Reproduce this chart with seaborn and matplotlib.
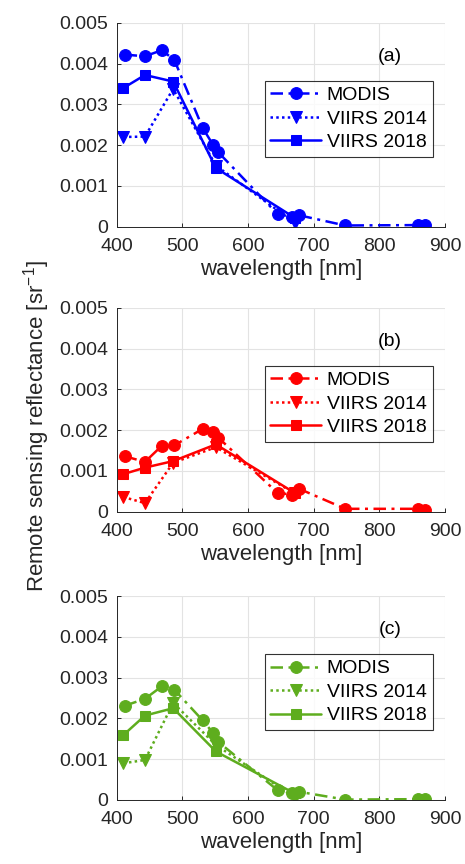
import numpy as np
import pandas as pd
import matplotlib
matplotlib.use("Agg")
import matplotlib.pyplot as plt
import seaborn as sns

# ---- data ----
modis_wl = [412, 443, 469, 488, 531, 547, 555, 645, 667, 678, 748, 859, 869]
viirs_wl = [410, 443, 486, 551, 671]

modis_a = [4.22e-3, 4.18e-3, 4.33e-3, 4.08e-3, 2.42e-3, 2.00e-3, 1.82e-3, 0.31e-3, 0.24e-3, 0.28e-3, 0.03e-3, 0.04e-3, 0.03e-3]
viirs14_a = [2.20e-3, 2.21e-3, 3.38e-3, 1.50e-3, 0.10e-3]
viirs18_a = [3.40e-3, 3.72e-3, 3.56e-3, 1.44e-3, 0.22e-3]

modis_b = [1.36e-3, 1.22e-3, 1.62e-3, 1.63e-3, 2.03e-3, 1.95e-3, 1.81e-3, 0.46e-3, 0.42e-3, 0.56e-3, 0.07e-3, 0.07e-3, 0.05e-3]
viirs14_b = [0.36e-3, 0.21e-3, 1.20e-3, 1.58e-3, 0.45e-3]
viirs18_b = [0.92e-3, 1.08e-3, 1.24e-3, 1.65e-3, 0.46e-3]

modis_c = [2.31e-3, 2.48e-3, 2.79e-3, 2.70e-3, 1.95e-3, 1.64e-3, 1.42e-3, 0.24e-3, 0.17e-3, 0.20e-3, 0.01e-3, 0.02e-3, 0.02e-3]
viirs14_c = [0.90e-3, 0.98e-3, 2.38e-3, 1.35e-3, 0.06e-3]
viirs18_c = [1.59e-3, 2.07e-3, 2.25e-3, 1.19e-3, 0.16e-3]

series_labels = ["MODIS", "VIIRS 2014", "VIIRS 2018"]
panel_labels = ["(a)", "(b)", "(c)"]
panel_colors = ["#0000FF", "#FF0000", "#5EAD1E"]
x_ticks = [400, 500, 600, 700, 800, 900]
y_ticks = [0, 0.001, 0.002, 0.003, 0.004, 0.005]
y_tick_labels = ["0", "0.001", "0.002", "0.003", "0.004", "0.005"]
x_label = "wavelength [nm]"
y_label = "Remote sensing reflectance [sr$^{-1}$]"

panels = [
    (modis_a, viirs14_a, viirs18_a),
    (modis_b, viirs14_b, viirs18_b),
    (modis_c, viirs14_c, viirs18_c),
]

sns.set_style("ticks")
plt.rcParams["font.family"] = ["Liberation Sans", "DejaVu Sans"]
plt.rcParams["mathtext.fontset"] = "custom"
plt.rcParams["mathtext.rm"] = "Liberation Sans"
plt.rcParams["mathtext.it"] = "Liberation Sans"

fig = plt.figure(figsize=(4.65, 8.64), dpi=100)
bottoms = [0.7376, 0.4078, 0.0741]
fs = 14
lab_fs = 16
axis_col = "#262626"

for i, (m, v14, v18) in enumerate(panels):
    ax = fig.add_axes([0.251, bottoms[i], 0.706, 0.236])
    col = panel_colors[i]
    sns.lineplot(x=modis_wl, y=m, ax=ax, color=col, marker="o", markersize=8.5,
                 markeredgecolor=col, linewidth=1.8, linestyle=(0, (5, 2.2, 1.2, 2.2)),
                 label=series_labels[0], sort=False)
    sns.lineplot(x=viirs_wl, y=v14, ax=ax, color=col, marker="v", markersize=9,
                 markeredgecolor=col, linewidth=1.8, linestyle=(0, (1, 1.3)),
                 label=series_labels[1], sort=False)
    sns.lineplot(x=viirs_wl, y=v18, ax=ax, color=col, marker="s", markersize=7.5,
                 markeredgecolor=col, linewidth=1.8, linestyle="-",
                 label=series_labels[2], sort=False)
    ax.set_xlim(400, 900)
    ax.set_ylim(0, 0.005)
    ax.set_xticks(x_ticks)
    ax.set_yticks(y_ticks)
    ax.set_yticklabels(y_tick_labels)
    ax.grid(True, color="#E3E3E3", linewidth=0.8)
    ax.set_axisbelow(True)
    for s in ["top", "right"]:
        ax.spines[s].set_visible(False)
    for s in ["left", "bottom"]:
        ax.spines[s].set_color(axis_col)
        ax.spines[s].set_linewidth(0.7)
    ax.tick_params(direction="in", length=3, width=0.7, color=axis_col,
                   labelsize=fs, labelcolor=axis_col)
    ax.tick_params(axis="x", pad=8)
    ax.tick_params(axis="y", pad=6)
    ax.set_xlabel(x_label, fontsize=lab_fs, color=axis_col, labelpad=3)
    ax.set_ylabel("")
    ax.text(0.832, 0.835, panel_labels[i], transform=ax.transAxes, fontsize=fs,
            ha="center", va="center", color="black")
    leg = ax.legend(loc="upper right", bbox_to_anchor=(0.962, 0.716), borderaxespad=0,
                    fontsize=fs, frameon=True, fancybox=False, handlelength=2.6,
                    handletextpad=0.3, labelspacing=0.3, borderpad=0.3)
    leg.get_frame().set_edgecolor("black")
    leg.get_frame().set_linewidth(0.8)
    for t in leg.get_texts():
        t.set_color("black")

fig.text(0.078, 0.507, y_label, rotation=90, ha="center", va="center",
         fontsize=lab_fs, color=axis_col)

fig.savefig("out.png", dpi=100)
